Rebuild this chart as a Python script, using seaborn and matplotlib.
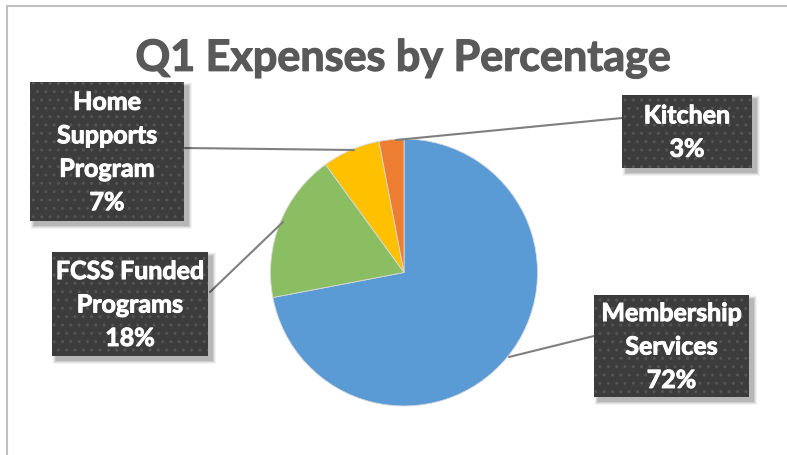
import matplotlib
matplotlib.use("Agg")
import matplotlib.pyplot as plt
import matplotlib.patheffects as pe
from matplotlib.patches import Rectangle
import seaborn as sns

categories = ["Membership Services", "FCSS Funded Programs", "Home Supports Program", "Kitchen"]
values = [72, 18, 7, 3]
label_texts = ["Membership\nServices\n72%", "FCSS Funded\nPrograms\n18%", "Home\nSupports\nProgram\n7%", "Kitchen\n3%"]
colors = ["#5B9BD5", "#8BBE63", "#FFC000", "#ED7D31"]
title = "Q1 Expenses by Percentage"

sns.set_theme(style="white")
plt.rcParams['font.family'] = ['Lato', 'DejaVu Sans']

W, H = 787, 455
fig = plt.figure(figsize=(W / 100, H / 100), dpi=100)
ax = fig.add_axes([0, 0, 1, 1])
ax.set_xlim(0, W)
ax.set_ylim(0, H)
ax.set_aspect('equal')
ax.axis('off')

def Y(y):
    return H - y

# chart frame
ax.plot([7, 7, W + 5], [Y(H + 5), Y(5.5), Y(5.5)], color="#BFBFBF", lw=1.5, solid_capstyle='butt')

# pie
cx, cy, r = 404, 272.5, 133.5
ax.pie(values, colors=colors, startangle=90, counterclock=False,
       center=(cx, Y(cy)), radius=r, frame=True,
       wedgeprops=dict(linewidth=0.6, edgecolor="#d9d9d9"))
ax.set_xlim(0, W)
ax.set_ylim(0, H)
ax.axis('off')

# title
ax.text(403, Y(58), title, ha='center', va='center', fontsize=31, fontweight='bold', color="#595959",
        path_effects=[pe.withStroke(linewidth=0.9, foreground="#595959")])

# label boxes: (x0, y0, x1, y1) in pixel coords, and leader line
boxes = [
    (594, 295, 749, 397),
    (52, 252, 208, 356),
    (30, 82, 184, 221),
    (622, 95, 752, 168),
]
leaders = [
    [(509, 357), (594, 336)],
    [(210, 292), (283, 222)],
    [(185, 148), (354, 150)],
    [(396, 140), (622, 118)],
]

for (x0, y0, x1, y1), txt, ld in zip(boxes, label_texts, leaders):
    (ax_, ay_), (bx_, by_) = ld
    ax.plot([ax_, bx_], [Y(ay_), Y(by_)], color="#7F7F7F", lw=1.5, zorder=3)
    # soft shadow
    for k, a in zip(range(8, 0, -1), [0.03, 0.04, 0.05, 0.06, 0.07, 0.08, 0.09, 0.1]):
        ax.add_patch(Rectangle((x0 + 4 - k / 2, Y(y1 + 4 + k / 2)), (x1 - x0) + k, (y1 - y0) + k,
                               facecolor="#000000", alpha=a * 0.6, lw=0, zorder=4))
    ax.add_patch(Rectangle((x0, Y(y1)), x1 - x0, y1 - y0, facecolor="#3C3C3C",
                           edgecolor="#555555", lw=0, hatch='..', zorder=5))
    ax.text((x0 + x1) / 2, Y((y0 + y1) / 2 + 1), txt, ha='center', va='center',
            fontsize=18, fontweight='bold', color='white', linespacing=1.55, zorder=6,
            path_effects=[pe.withStroke(linewidth=0.7, foreground="white")])

fig.savefig("out.png", dpi=100)
